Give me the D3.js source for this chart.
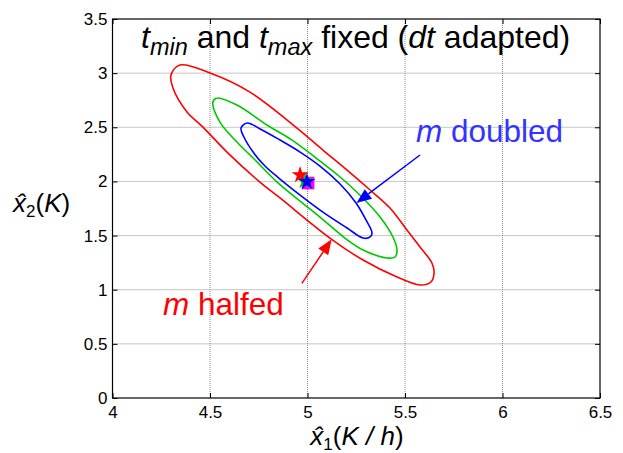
<!DOCTYPE html>
<html>
<head>
<meta charset="utf-8">
<script src="https://cdn.jsdelivr.net/npm/d3@7"></script>
<style>
  body { margin: 0; background: #fff; }
  svg text { font-family: "Liberation Sans", Arial, Helvetica, sans-serif; }
</style>
</head>
<body>
<div id="chart"></div>
<script>
// contour points (x1, x2)
var redX  = [4.300, 4.346, 4.500, 4.705, 4.946, 5.079, 5.203, 5.321, 5.423, 5.510, 5.577, 5.638, 5.649, 5.633, 5.577, 5.459, 5.285, 5.115, 4.859, 4.756, 4.587, 4.464, 4.382, 4.310];
var redY  = [2.982, 3.075, 3.001, 2.825, 2.493, 2.290, 2.105, 1.921, 1.754, 1.551, 1.394, 1.247, 1.154, 1.071, 1.043, 1.117, 1.274, 1.477, 1.847, 1.994, 2.271, 2.502, 2.641, 2.862];
var greenX = [4.515, 4.536, 4.638, 4.792, 4.921, 5.044, 5.167, 5.279, 5.372, 5.438, 5.459, 5.449, 5.408, 5.285, 5.192, 5.064, 4.962, 4.844, 4.721, 4.638, 4.551];
var greenY = [2.733, 2.770, 2.705, 2.521, 2.382, 2.216, 2.041, 1.856, 1.671, 1.487, 1.367, 1.302, 1.293, 1.367, 1.477, 1.671, 1.819, 1.994, 2.216, 2.364, 2.548];
var blueX = [4.690, 4.767, 4.859, 4.962, 5.064, 5.167, 5.249, 5.300, 5.331, 5.321, 5.285, 5.203, 5.079, 4.962, 4.859, 4.782, 4.721, 4.674, 4.659];
var blueY = [2.539, 2.475, 2.382, 2.271, 2.142, 1.976, 1.801, 1.644, 1.524, 1.487, 1.477, 1.570, 1.717, 1.874, 2.022, 2.142, 2.271, 2.410, 2.493];

// estimates and true value
var trueVal = [5.003, 1.985];
var estGreen = [4.985, 2.005];
var estRed = [4.962, 2.059];
var estBlue = [4.997, 1.997];

// annotation arrows [from, to]
var blueArrow = [[5.577, 2.244], [5.251, 1.801]];
var redArrow = [[4.971, 1.059], [5.124, 1.465]];

var xTicks = [4, 4.5, 5, 5.5, 6, 6.5];
var yTicks = [0, 0.5, 1, 1.5, 2, 2.5, 3, 3.5];

var w = 623, h = 453;
var padL = 112.5, padR = 600, padT = 19, padB = 398;

var svg = d3.select("#chart").append("svg")
    .attr("width", w)
    .attr("height", h);

var x = d3.scaleLinear().domain([4, 6.5]).range([padL, padR]);
var y = d3.scaleLinear().domain([0, 3.5]).range([padB, padT]);

// grid
var grid = svg.append("g").attr("class", "grid");
grid.selectAll("line.gx")
    .data(xTicks.slice(1, -1))
    .enter().append("line")
    .attr("class", "gx")
    .attr("x1", d => x(d)).attr("x2", d => x(d))
    .attr("y1", padT).attr("y2", padB);
grid.selectAll("line.gy")
    .data(yTicks.slice(1, -1))
    .enter().append("line")
    .attr("class", "gy")
    .attr("x1", padL).attr("x2", padR)
    .attr("y1", d => y(d)).attr("y2", d => y(d));
grid.selectAll("line")
    .attr("stroke", "#8c8c8c")
    .attr("stroke-width", 1)
    .attr("stroke-dasharray", "1,1");

// axes, ticks pointing inward like matlab
var fontTick = "17px";
svg.append("g")
    .attr("transform", "translate(0," + padB + ")")
    .call(d3.axisBottom(x).tickValues(xTicks).tickSize(-5).tickSizeOuter(0).tickPadding(8).tickFormat(d3.format("")))
    .call(g => g.select(".domain").remove())
    .selectAll("text").style("font-size", fontTick).attr("fill", "#000");
svg.append("g")
    .attr("transform", "translate(" + padL + ",0)")
    .call(d3.axisLeft(y).tickValues(yTicks).tickSize(-5).tickSizeOuter(0).tickPadding(5).tickFormat(d3.format("")))
    .call(g => g.select(".domain").remove())
    .selectAll("text").style("font-size", fontTick).attr("fill", "#000");
svg.append("g")
    .attr("transform", "translate(0," + padT + ")")
    .call(d3.axisTop(x).tickValues(xTicks).tickSize(-5).tickSizeOuter(0).tickFormat(""))
    .call(g => g.select(".domain").remove());
svg.append("g")
    .attr("transform", "translate(" + padR + ",0)")
    .call(d3.axisRight(y).tickValues(yTicks).tickSize(-5).tickSizeOuter(0).tickFormat(""))
    .call(g => g.select(".domain").remove());

svg.append("rect")
    .attr("x", padL).attr("y", padT)
    .attr("width", padR - padL).attr("height", padB - padT)
    .attr("fill", "none")
    .attr("stroke", "#000")
    .attr("stroke-width", 1.2);

// contours
var line = d3.line()
    .x(d => x(d[0]))
    .y(d => y(d[1]))
    .curve(d3.curveCatmullRomClosed);

var contours = [
    {xs: redX, ys: redY, color: "#ff0000"},
    {xs: greenX, ys: greenY, color: "#00c800"},
    {xs: blueX, ys: blueY, color: "#0000ff"}
];
contours.forEach(function(c) {
    var pts = c.xs.map((v, i) => [v, c.ys[i]]);
    svg.append("path")
        .attr("d", line(pts))
        .attr("fill", "none")
        .attr("stroke", c.color)
        .attr("stroke-width", 1.6);
});

// markers
svg.append("path")
    .attr("transform", "translate(" + x(trueVal[0]) + "," + y(trueVal[1]) + ")")
    .attr("d", d3.symbol().type(d3.symbolSquare).size(160)())
    .attr("fill", "#ff00ff");
[[estGreen, "#00c800"], [estRed, "#ff0000"], [estBlue, "#0000ff"]].forEach(function(m) {
    svg.append("path")
        .attr("transform", "translate(" + x(m[0][0]) + "," + y(m[0][1]) + ")")
        .attr("d", d3.symbol().type(d3.symbolStar).size(90)())
        .attr("fill", m[1]);
});

// arrows
function arrow(a, color) {
    var x0 = x(a[0][0]), y0 = y(a[0][1]), x1 = x(a[1][0]), y1 = y(a[1][1]);
    var ang = Math.atan2(y1 - y0, x1 - x0);
    var L = 15, W = 6;
    var bx = x1 - L * Math.cos(ang), by = y1 - L * Math.sin(ang);
    svg.append("line")
        .attr("x1", x0).attr("y1", y0).attr("x2", bx).attr("y2", by)
        .attr("stroke", color).attr("stroke-width", 1.5);
    svg.append("path")
        .attr("d", "M" + x1 + "," + y1 +
            "L" + (bx + W * Math.sin(ang)) + "," + (by - W * Math.cos(ang)) +
            "L" + (bx - W * Math.sin(ang)) + "," + (by + W * Math.cos(ang)) + "Z")
        .attr("fill", color);
}
arrow(blueArrow, "#0000ff");
arrow(redArrow, "#ff0000");

// title
var title = svg.append("text")
    .attr("x", 141).attr("y", 48)
    .style("font-size", "32px")
    .attr("fill", "#000");
title.append("tspan").style("font-style", "italic").text("t");
title.append("tspan").style("font-style", "italic").style("font-size", "23.5px").attr("dy", 7).text("min");
title.append("tspan").attr("dy", -7).text(" and ");
title.append("tspan").style("font-style", "italic").text("t");
title.append("tspan").style("font-style", "italic").style("font-size", "23.5px").attr("dy", 7).text("max");
title.append("tspan").attr("dy", -7).text(" fixed (");
title.append("tspan").style("font-style", "italic").text("dt");
title.append("tspan").text(" adapted)");

// annotations
var tb = svg.append("text")
    .attr("x", 416).attr("y", 142)
    .style("font-size", "31.5px")
    .attr("fill", "#3333ff");
tb.append("tspan").style("font-style", "italic").text("m");
tb.append("tspan").text(" doubled");

var tr = svg.append("text")
    .attr("x", 163).attr("y", 315)
    .style("font-size", "31.5px")
    .attr("fill", "#ff0000");
tr.append("tspan").style("font-style", "italic").text("m");
tr.append("tspan").text(" halfed");

// axis labels
var xl = svg.append("text")
    .attr("x", 357).attr("y", 445)
    .attr("text-anchor", "middle")
    .style("font-size", "26px")
    .attr("fill", "#000");
xl.append("tspan").style("font-style", "italic").text("x\u0302");
xl.append("tspan").style("font-size", "17px").attr("dy", 5).text("1");
xl.append("tspan").attr("dy", -5).text("(");
xl.append("tspan").style("font-style", "italic").text("K / h");
xl.append("tspan").text(")");

var yl = svg.append("text")
    .attr("x", 13).attr("y", 212)
    .style("font-size", "26px")
    .attr("fill", "#000");
yl.append("tspan").style("font-style", "italic").text("x\u0302");
yl.append("tspan").style("font-size", "17px").attr("dy", 5).text("2");
yl.append("tspan").attr("dy", -5).text("(");
yl.append("tspan").style("font-style", "italic").text("K");
yl.append("tspan").text(")");
</script>
</body>
</html>
